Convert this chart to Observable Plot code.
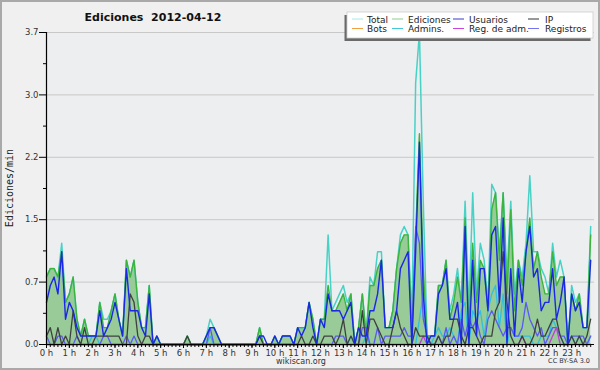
<!DOCTYPE html>
<html><head><meta charset="utf-8">
<script src="https://cdn.jsdelivr.net/npm/d3@7"></script>
<script src="https://cdn.jsdelivr.net/npm/@observablehq/plot@0.6"></script>
<style>
body{margin:0;background:#fff}
#wrap{position:relative;width:600px;height:370px;background:#f0f0f0;overflow:hidden}
#wrap svg{position:absolute;left:0;top:0}
#border{position:absolute;left:0;top:0;width:600px;height:370px;box-sizing:border-box;border:2px solid #a9a9a9;pointer-events:none}
</style></head>
<body>
<div id="wrap"><div id="border"></div></div>
<script>
// 10-minute bins over the day (hours)
const t = d3.range(144).map(i => i / 6);

const total = [
.8,.9,.9,.8,1.2,.5,.6,.8,.3,.1, .3,.1,.1,.1,.5,.3,.3,.4,.6,.3,
.1,1.0,.8,1.0,.5,.2,.2,.7,0,.1, 0,0,0,0,0,0,0,.1,0,0,
0,0,.1,.3,.2,.1,0,0,0,0, 0,0,0,0,0,0,.2,0,0,0,
.1,0,.1,.1,.1,0,.2,.2,.2,.5, .3,0,.3,.3,1.3,.4,.5,.6,.7,.5,
.6,0,.2,.6,.1,.8,.7,1.1,1.1,.2, .2,.4,.9,1.3,1.4,1.3,.3,3.1,3.7,1.7,
.1,.1,.1,.7,.7,1.0,.4,.6,.9,.5, 1.7,.4,1.8,.6,1.2,1.0,.5,1.9,1.8,1.1,
1.8,.8,1.7,.6,1.0,.8,1.2,2.0,1.1,1.1, .9,.8,.6,1.2,.8,1.0,.8,0,.7,.5,
.6,.2,.2,1.4];
const ediciones = [
.8,.9,.9,.8,1.1,.5,.6,.8,.3,.1, .3,.1,.1,.1,.5,.2,.2,.4,.6,.3,
.1,1.0,.8,1.0,.5,.2,.2,.7,0,.1, 0,0,0,0,0,0,0,.1,0,0,
0,0,.1,.2,.2,.1,0,0,0,0, 0,0,0,0,0,0,.2,0,0,0,
.1,0,.1,.1,.1,0,.2,.2,.2,.5, .3,0,.3,.3,.7,.4,.4,.5,.6,.4,
.6,0,.2,.6,.1,.7,.7,.9,1.0,.2, .2,.4,.9,1.2,1.3,1.3,.1,1.3,2.5,.9,
.1,.1,.1,.7,.7,1.0,.3,.5,.8,.5, 1.5,.2,1.2,.5,1.0,.9,.4,1.6,1.8,1.0,
1.8,.6,1.6,.4,1.0,.7,1.1,1.5,.9,1.1, .8,.6,.6,1.1,.7,.8,.8,0,.6,.4,
.6,.2,.2,1.3];
const usuarios = [
.5,.7,.8,.6,1.1,.3,.5,.4,.2,.1, .1,.1,.1,.1,.4,.1,.2,.3,.5,.3,
.1,.9,.4,.4,.4,.2,.1,.6,0,.1, 0,0,0,0,0,0,0,0,0,0,
0,0,.1,.2,.2,.1,0,0,0,0, 0,0,0,0,0,0,.1,.1,0,0,
.1,0,.1,.1,.1,0,.2,.1,.2,.5, .2,0,.3,.2,.6,.4,.4,.4,.3,.4,
.5,0,.2,.1,.1,.4,.4,.6,1.0,.2, .2,.2,.4,.9,1.0,1.1,0,1.1,2.4,.6,
0,.1,.1,.6,.7,.9,.3,.3,.5,0, 1.4,0,1.0,.1,.9,.9,.4,1.3,1.4,.5,
1.5,0,.9,.1,.9,.5,1.1,1.4,.8,.9, .4,.5,.5,.9,.3,.5,.8,0,.6,.4,
.5,.2,.2,1.0];
const ip = [
.1,.2,0,.2,0,.1,0,.4,.1,0, .2,0,0,.1,.1,.1,.1,.1,.1,.1,
0,0,.6,.5,.1,0,.1,.1,0,0, 0,0,0,0,0,0,0,.1,0,0,
0,0,0,0,0,0,0,0,0,0, 0,0,0,0,0,0,.1,0,0,0,
0,0,0,0,0,0,0,.1,0,0, .1,0,0,.1,.1,.1,0,.1,.3,0,
.1,0,0,.4,0,.3,.3,.2,.1,0, 0,.2,.4,.2,.1,0,0,.2,.1,.1,
.1,0,0,.1,0,.1,.1,.3,.3,.1, 0,.2,.2,.1,0,.1,.1,.1,.4,.5,
1.1,.5,.1,0,0,.1,0,0,.1,.3, .1,.1,.2,.3,.3,.1,0,0,.1,0,
.1,0,.1,.3];
const bots = new Array(144).fill(0);
const admins = [
0,0,0,0,0,0,0,0,0,0, 0,0,.1,.1,0,0,0,0,0,0,
0,0,0,0,0,0,0,0,0,0, 0,0,0,0,0,0,0,0,0,0,
0,0,0,.1,0,0,0,0,0,0, 0,0,0,0,0,0,0,0,0,0,
0,0,0,0,0,0,0,0,0,0, 0,0,0,0,0,0,0,0,0,0,
.1,0,0,0,.1,0,0,0,0,0, 0,0,0,0,0,0,0,0,.3,.6,
.1,0,.1,.2,.1,.1,.2,.1,0,.4, .5,0,.4,.3,.4,.1,.4,.6,.7,.2,
.6,0,.2,.1,.1,.1,.1,.1,0,0, .1,.1,.1,.3,.2,.1,0,0,.1,0,
.1,0,0,.1];
const regAdm = [
0,0,0,0,0,0,0,0,0,0, 0,0,0,0,0,0,0,0,0,0,
0,0,0,0,0,0,0,0,0,0, 0,0,0,0,0,0,0,0,0,0,
0,0,0,0,0,0,0,0,0,0, 0,0,0,0,0,0,0,0,0,0,
0,0,0,0,0,0,0,0,0,0, 0,0,0,0,0,0,0,0,0,0,
0,0,0,0,0,0,0,0,0,0, 0,0,0,0,0,0,0,0,0,.1,
0,0,0,0,0,0,0,0,0,0, 0,0,0,0,0,0,0,0,0,0,
0,0,0,0,0,.1,0,0,0,0, 0,0,0,.1,.2,0,0,0,0,0,
0,0,0,0];
const registros = [
.1,0,0,.1,.1,0,0,0,.1,0, 0,0,0,0,0,.1,.1,0,0,0,
0,.1,0,.1,0,0,0,0,0,0, 0,0,0,0,0,0,0,0,0,0,
0,0,0,.2,0,0,0,0,0,0, 0,0,0,0,0,0,0,0,0,0,
0,0,0,0,0,0,0,0,0,0, 0,0,0,0,0,0,.1,.1,.1,0,
0,0,0,.2,.2,0,0,.2,0,.1, .1,.1,.1,.1,.2,.1,.1,1.4,1.2,.3,
.1,0,0,.1,0,.2,0,.1,0,.3, .1,.3,.2,.3,.1,0,.3,.4,.3,.2,
.1,.2,.2,.1,.1,.2,.5,.3,.2,.1, .2,0,.1,.2,.2,.1,.1,0,.1,.1,
.1,.1,0,.1];

const yTicks = [0, 0.74, 1.48, 2.22, 2.96, 3.7];
const yMinor = [0.37, 1.11, 1.85, 2.59, 3.33];
const hourTicks = d3.range(0, 24);
const hourLabels = hourTicks.map(h => h + " h");
const minorTicks = d3.range(0, 144).map(i => i / 6);

const legendNames = ["Total", "Ediciones", "Usuarios", "IP", "Bots", "Admins.", "Reg. de adm.", "Registros"];
const legendColors = ["#a8e6e4", "#8ccf8c", "#3a3acc", "#333333", "#f0a040", "#44c8d8", "#c844dd", "#7474ee"];

const rows = t.map((x, i) => ({t: x, total: total[i], ed: ediciones[i], us: usuarios[i], ip: ip[i],
  bots: bots[i], adm: admins[i], regAdm: regAdm[i], reg: registros[i]}));

const line = (key, stroke, w = 1.3) => Plot.lineY(rows, {x: "t", y: key, stroke, strokeWidth: w});

const chart = Plot.plot({
  width: 600, height: 370,
  marginLeft: 46, marginRight: 6, marginTop: 32, marginBottom: 26,
  x: {domain: [0, 24], axis: null, label: null},
  y: {domain: [0, 3.7], axis: null, label: null},
  style: {background: "transparent", fontFamily: "DejaVu Sans", fontSize: "8.5px", color: "#333"},
  marks: [
    Plot.frame({fill: "#edeef0", stroke: null}),
    Plot.ruleY(yTicks, {stroke: "#c8c8c8", strokeWidth: 1}),
    Plot.areaY(rows, {x: "t", y: "ed", fill: "#98cb98"}),
    line("total", "#48d2c6", 1.5),
    line("ed", "#3cb43c", 1.4),
    line("bots", "#f0a040"),
    line("adm", "#30c0dc"),
    line("reg", "#5a5af2"),
    line("regAdm", "#c040d8"),
    line("ip", "#404040"),
    line("us", "#1a28e6", 1.4),
    Plot.ruleY([0], {stroke: "#000", strokeWidth: 1.2}),
    Plot.ruleX([0], {stroke: "#000", strokeWidth: 1.2}),
    Plot.axisY({ticks: yTicks, label: null, tickSize: 7, tickPadding: 1, tickFormat: d => d.toFixed(1), stroke: "#000"}),
    Plot.axisY({ticks: yMinor, label: null, tickSize: 3, tickFormat: () => "", stroke: "#000"}),
    Plot.axisX({ticks: hourTicks, label: null, tickSize: 4, tickPadding: 1, tickFormat: d => hourLabels[hourTicks.indexOf(d)], stroke: "#000"}),
    Plot.axisX({ticks: minorTicks, label: null, tickSize: 3, tickFormat: () => "", stroke: "#000"})
  ]
});
const wrap = document.getElementById("wrap");
wrap.insertBefore(chart, document.getElementById("border"));

// overlay: title, legend, labels
const ov = d3.select(wrap).append("svg").attr("width", 600).attr("height", 370)
  .style("font-family", "DejaVu Sans");
ov.append("text").attr("x", 153).attr("y", 20.5).attr("text-anchor", "middle")
  .attr("font-weight", "bold").attr("font-size", 11).attr("fill", "#111")
  .text("Ediciones\u00a0\u00a02012-04-12");
ov.append("text").attr("transform", "translate(13,188) rotate(-90)").attr("text-anchor", "middle")
  .attr("font-family", "DejaVu Sans Mono").attr("font-size", 10).attr("fill", "#222").text("Ediciones/min");
ov.append("text").attr("x", 301).attr("y", 364).attr("text-anchor", "middle")
  .attr("font-size", 8).attr("fill", "#333").text("wikiscan.org");
ov.append("text").attr("x", 590).attr("y", 363).attr("text-anchor", "end")
  .attr("font-size", 6.5).attr("fill", "#333").text("CC BY-SA 3.0");

const lg = ov.append("g");
lg.append("rect").attr("x", 344.5).attr("y", 15).attr("width", 246).attr("height", 26).attr("fill", "#6a6a6a");
lg.append("rect").attr("x", 347).attr("y", 12).attr("width", 246).attr("height", 26).attr("fill", "#fff")
  .attr("stroke", "#cccccc").attr("stroke-width", 0.8);
const colText = [367, 408, 469, 545], colSw = [352, 392, 453, 528], rowBase = [22.5, 32];
legendNames.forEach((name, k) => {
  const c = k % 4, r = Math.floor(k / 4);
  lg.append("line").attr("x1", colSw[c]).attr("x2", colSw[c] + 11)
    .attr("y1", rowBase[r] - 3.5).attr("y2", rowBase[r] - 3.5)
    .attr("stroke", legendColors[k]).attr("stroke-width", 1);
  lg.append("text").attr("x", colText[c]).attr("y", rowBase[r]).attr("font-size", 9)
    .attr("fill", "#222").text(name);
});
</script>
</body></html>
